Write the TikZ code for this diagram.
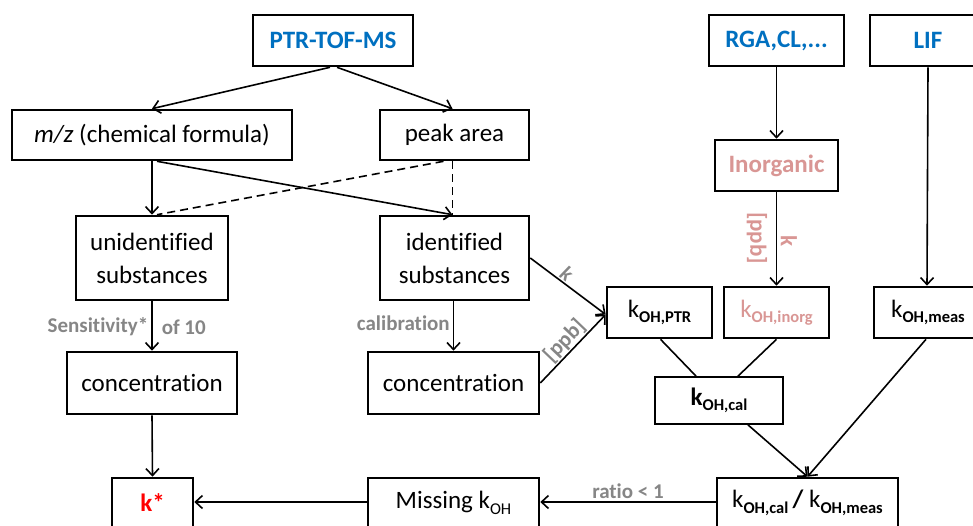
\documentclass[tikz,border=0pt]{standalone}
\usepackage{fontspec}
\setmainfont{Carlito}[Ligatures=NoCommon]
\usetikzlibrary{arrows.meta,calc}
\definecolor{cblue}{HTML}{0070C0}
\definecolor{cpink}{HTML}{D99694}
\definecolor{cgray}{HTML}{868686}
\definecolor{cred}{HTML}{FF0000}
\newcommand\subtxt[1]{\raisebox{-5.5pt}{\fontsize{16.5}{17}\selectfont\bfseries #1}}
\newcommand\subreg[1]{\raisebox{-5.5pt}{\fontsize{16.5}{17}\selectfont #1}}
\begin{document}
\begin{tikzpicture}[x=1pt,y=-1pt,
  box/.style={draw, line width=2.6pt, inner sep=0pt, align=center,
    font=\fontsize{25}{33}\selectfont},
  arr/.style={draw, line width=1.6pt, -{Straight Barb[length=7pt,width=13pt]}},
  ln/.style={draw, line width=1.6pt},
  dsh/.style={draw, line width=1.6pt, dash pattern=on 8pt off 5pt},
  lbl/.style={text=cgray, font=\fontsize{21}{22}\selectfont\bfseries, inner sep=3pt},
  plbl/.style={text=cpink, font=\fontsize{23}{23}\selectfont\bfseries, inner sep=0pt}]
\useasboundingbox (0,0) rectangle (973,526);
\clip (0,0) rectangle (973,526);
\fill[white] (0,0) rectangle (973,526);

% nodes
\node[box, minimum width=160pt, minimum height=51pt, text=cblue, font=\fontsize{25}{33}\selectfont\bfseries] (ptr) at (333,40.5) {PTR-TOF-MS};
\node[box, minimum width=135pt, minimum height=51pt, text=cblue, font=\fontsize{25}{33}\selectfont\bfseries] (rga) at (776.5,40.5) {RGA,CL,...};
\node[box, minimum width=116pt, minimum height=51pt, text=cblue, font=\fontsize{25}{33}\selectfont\bfseries] (lif) at (928,40.5) {LIF};
\node[box, minimum width=280pt, minimum height=50pt] (mz) at (152,135) {\textit{m/z} (chemical formula)};
\node[box, minimum width=149pt, minimum height=50pt] (peak) at (454.5,135) {peak area};
\node[box, minimum width=123pt, minimum height=51pt, text=cpink, font=\fontsize{25}{33}\selectfont\bfseries] (inorg) at (776.5,165.5) {Inorganic};
\node[box, minimum width=152pt, minimum height=84pt] (unid) at (152,258) {unidentified\\substances};
\node[box, minimum width=149pt, minimum height=84pt] (iden) at (454.5,258) {identified\\substances};
\node[box, minimum width=170pt, minimum height=62pt] (conc1) at (152,383) {concentration};
\node[box, minimum width=171pt, minimum height=62pt] (conc2) at (453.5,383) {concentration};
\node[box, minimum width=105pt, minimum height=51pt] (kptr) at (659.5,312.5) {k\subtxt{OH,PTR}};
\node[box, minimum width=105pt, minimum height=51pt, text=cpink] (kinorg) at (776.5,312.5) {k\subtxt{OH,inorg}};
\node[box, minimum width=108pt, minimum height=51pt] (kmeas) at (928,312.5) {k\subtxt{OH,meas}};
\node[box, minimum width=128pt, minimum height=47pt, line width=1.8pt] (kcal) at (719,400.5) {\textbf{k}\subtxt{OH,cal}};
\node[box, minimum width=81pt, minimum height=50pt, text=cred, font=\fontsize{25}{33}\selectfont\bfseries] (kstar) at (152.5,503) {k*};
\node[box, minimum width=171pt, minimum height=50pt] (miss) at (453.5,503) {Missing k\subreg{OH}};
\node[box, minimum width=181pt, minimum height=50pt] (ratio) at (807.5,503) {k\subtxt{OH,cal}\,\textbf{/} k\subtxt{OH,meas}};

% connectors
\draw[arr] ($(ptr.south)+(-3,0)$) -- (mz.north);
\draw[arr] ($(ptr.south)+(4,0)$) -- ($(peak.north)+(-2,0)$);
\draw[arr] (mz.south) -- (unid.north);
\draw[arr] ($(mz.south)+(5,0)$) -- ($(iden.north)+(-2,0)$);
\draw[dsh] ($(peak.south)+(-11,0)$) -- ($(unid.north)+(5,0)$);
\draw[dsh] ($(peak.south)+(-2,0)$) -- ($(iden.north)+(-2,0)$);
\draw[arr] (unid.south) -- node[lbl, left, pos=0.52] (l1) {Sensitivity*} node[lbl, right, pos=0.52, xshift=6pt] (l2) {of 10} (conc1.north);
\draw[arr] ($(iden.south)+(-1,0)$) -- node[lbl, left, pos=0.45] (l3) {calibration} (conc2.north);
\draw[arr] (iden.east) -- node[lbl, sloped, above, pos=0.41, inner sep=1pt] (l4) {\itshape k} ($(kptr.west)+(0,2)$);
\draw[arr] (conc2.east) -- node[lbl, sloped, above, pos=0.5, inner sep=1pt, font=\fontsize{22}{22}\selectfont\bfseries] (l5) {[ppb]} ($(kptr.west)+(0,2)$);
\draw[arr] (rga.south) -- (inorg.north);
\draw[arr] (inorg.south) -- (kinorg.north);
\node[plbl, rotate=-90] (l6) at (757,238) {[ppb]};
\node[plbl, rotate=-90] (l7) at (789,241) {k};
\draw[arr] (lif.south) -- ($(kmeas.north)+(-1,0)$);
\draw[ln] ($(kptr.south)+(1,0)$) -- ($(kcal.north)+(-23,0)$);
\draw[ln] (kinorg.south) -- ($(kcal.north)+(19,0)$);
\draw[arr] ($(kcal.south)+(29,0)$) -- (ratio.north);
\draw[arr] ($(kmeas.south)+(-2,0)$) -- (ratio.north);
\draw[arr] ($(ratio.west)+(0,-1)$) -- node[lbl, above, pos=0.5] (l8) {ratio < 1} ($(miss.east)+(0,-1)$);
\draw[arr] ($(miss.west)+(0,-1)$) -- ($(kstar.east)+(0,-1)$);
\draw[arr] (conc1.south) -- (kstar.north);
\end{tikzpicture}
\end{document}
